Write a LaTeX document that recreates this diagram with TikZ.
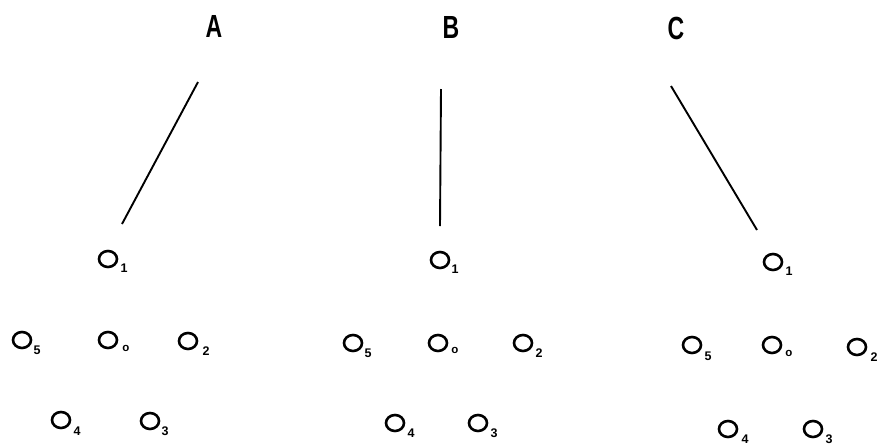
\documentclass[tikz,border=0pt]{standalone}
\usepackage{fontspec}
\setmainfont{Liberation Sans}
\usetikzlibrary{shapes.geometric}
\begin{document}
\begin{tikzpicture}[x=1pt,y=-1pt,
  ring/.style={draw, line width=2.6pt, ellipse, minimum width=18pt, minimum height=16pt, inner sep=0pt},
  sub/.style={font=\fontsize{12.5}{12.5}\selectfont\bfseries, inner sep=0pt},
  title/.style={font=\fontsize{32}{32}\selectfont\bfseries, inner sep=0pt},
  arm/.style={line width=1.9pt}]
\useasboundingbox (0,0) rectangle (884,445);
% Panel A
\node[title] (tA) at (214,26) {\scalebox{0.72}[1]{A}};
\coordinate (a1) at (198,82); \coordinate (a2) at (122,224);
\draw[arm] (a1) -- (a2);
\foreach \n/\x/\y/\lx/\ly in {1/108/259/124/268, 5/22/340/37/350, 0/108/340/126/348, 2/188/341/206/351, 4/61/420/77/431, 3/150/421/165/431}{
  \node[ring] (A\n) at (\x,\y) {};
  \node[sub] (Al\n) at (\lx,\ly) {\ifnum\n=0 \fontsize{11.5}{11.5}\selectfont o\else\n\fi};
}
% Panel B
\node[title] (tB) at (451,27) {\scalebox{0.72}[1]{B}};
\coordinate (b1) at (441,89); \coordinate (b2) at (440,226);
\draw[arm] (b1) -- (b2);
\foreach \n/\x/\y/\lx/\ly in {1/440/260/455/269, 5/353/343/368/353, 0/438/343/455/350, 2/523/343/539/353, 4/395/423/411/433, 3/478/423/494/433}{
  \node[ring] (B\n) at (\x,\y) {};
  \node[sub] (Bl\n) at (\lx,\ly) {\ifnum\n=0 \fontsize{11.5}{11.5}\selectfont o\else\n\fi};
}
% Panel C
\node[title] (tC) at (676,28) {\scalebox{0.72}[1]{C}};
\coordinate (c1) at (671,86); \coordinate (c2) at (757,230);
\draw[arm] (c1) -- (c2);
\foreach \n/\x/\y/\lx/\ly in {1/773/262/789/271, 5/692/345/708/356, 0/772/345/789/353, 2/857/347/874/357, 4/728/429/745/439, 3/813/429/829/439}{
  \node[ring] (C\n) at (\x,\y) {};
  \node[sub] (Cl\n) at (\lx,\ly) {\ifnum\n=0 \fontsize{11.5}{11.5}\selectfont o\else\n\fi};
}
\end{tikzpicture}
\end{document}
